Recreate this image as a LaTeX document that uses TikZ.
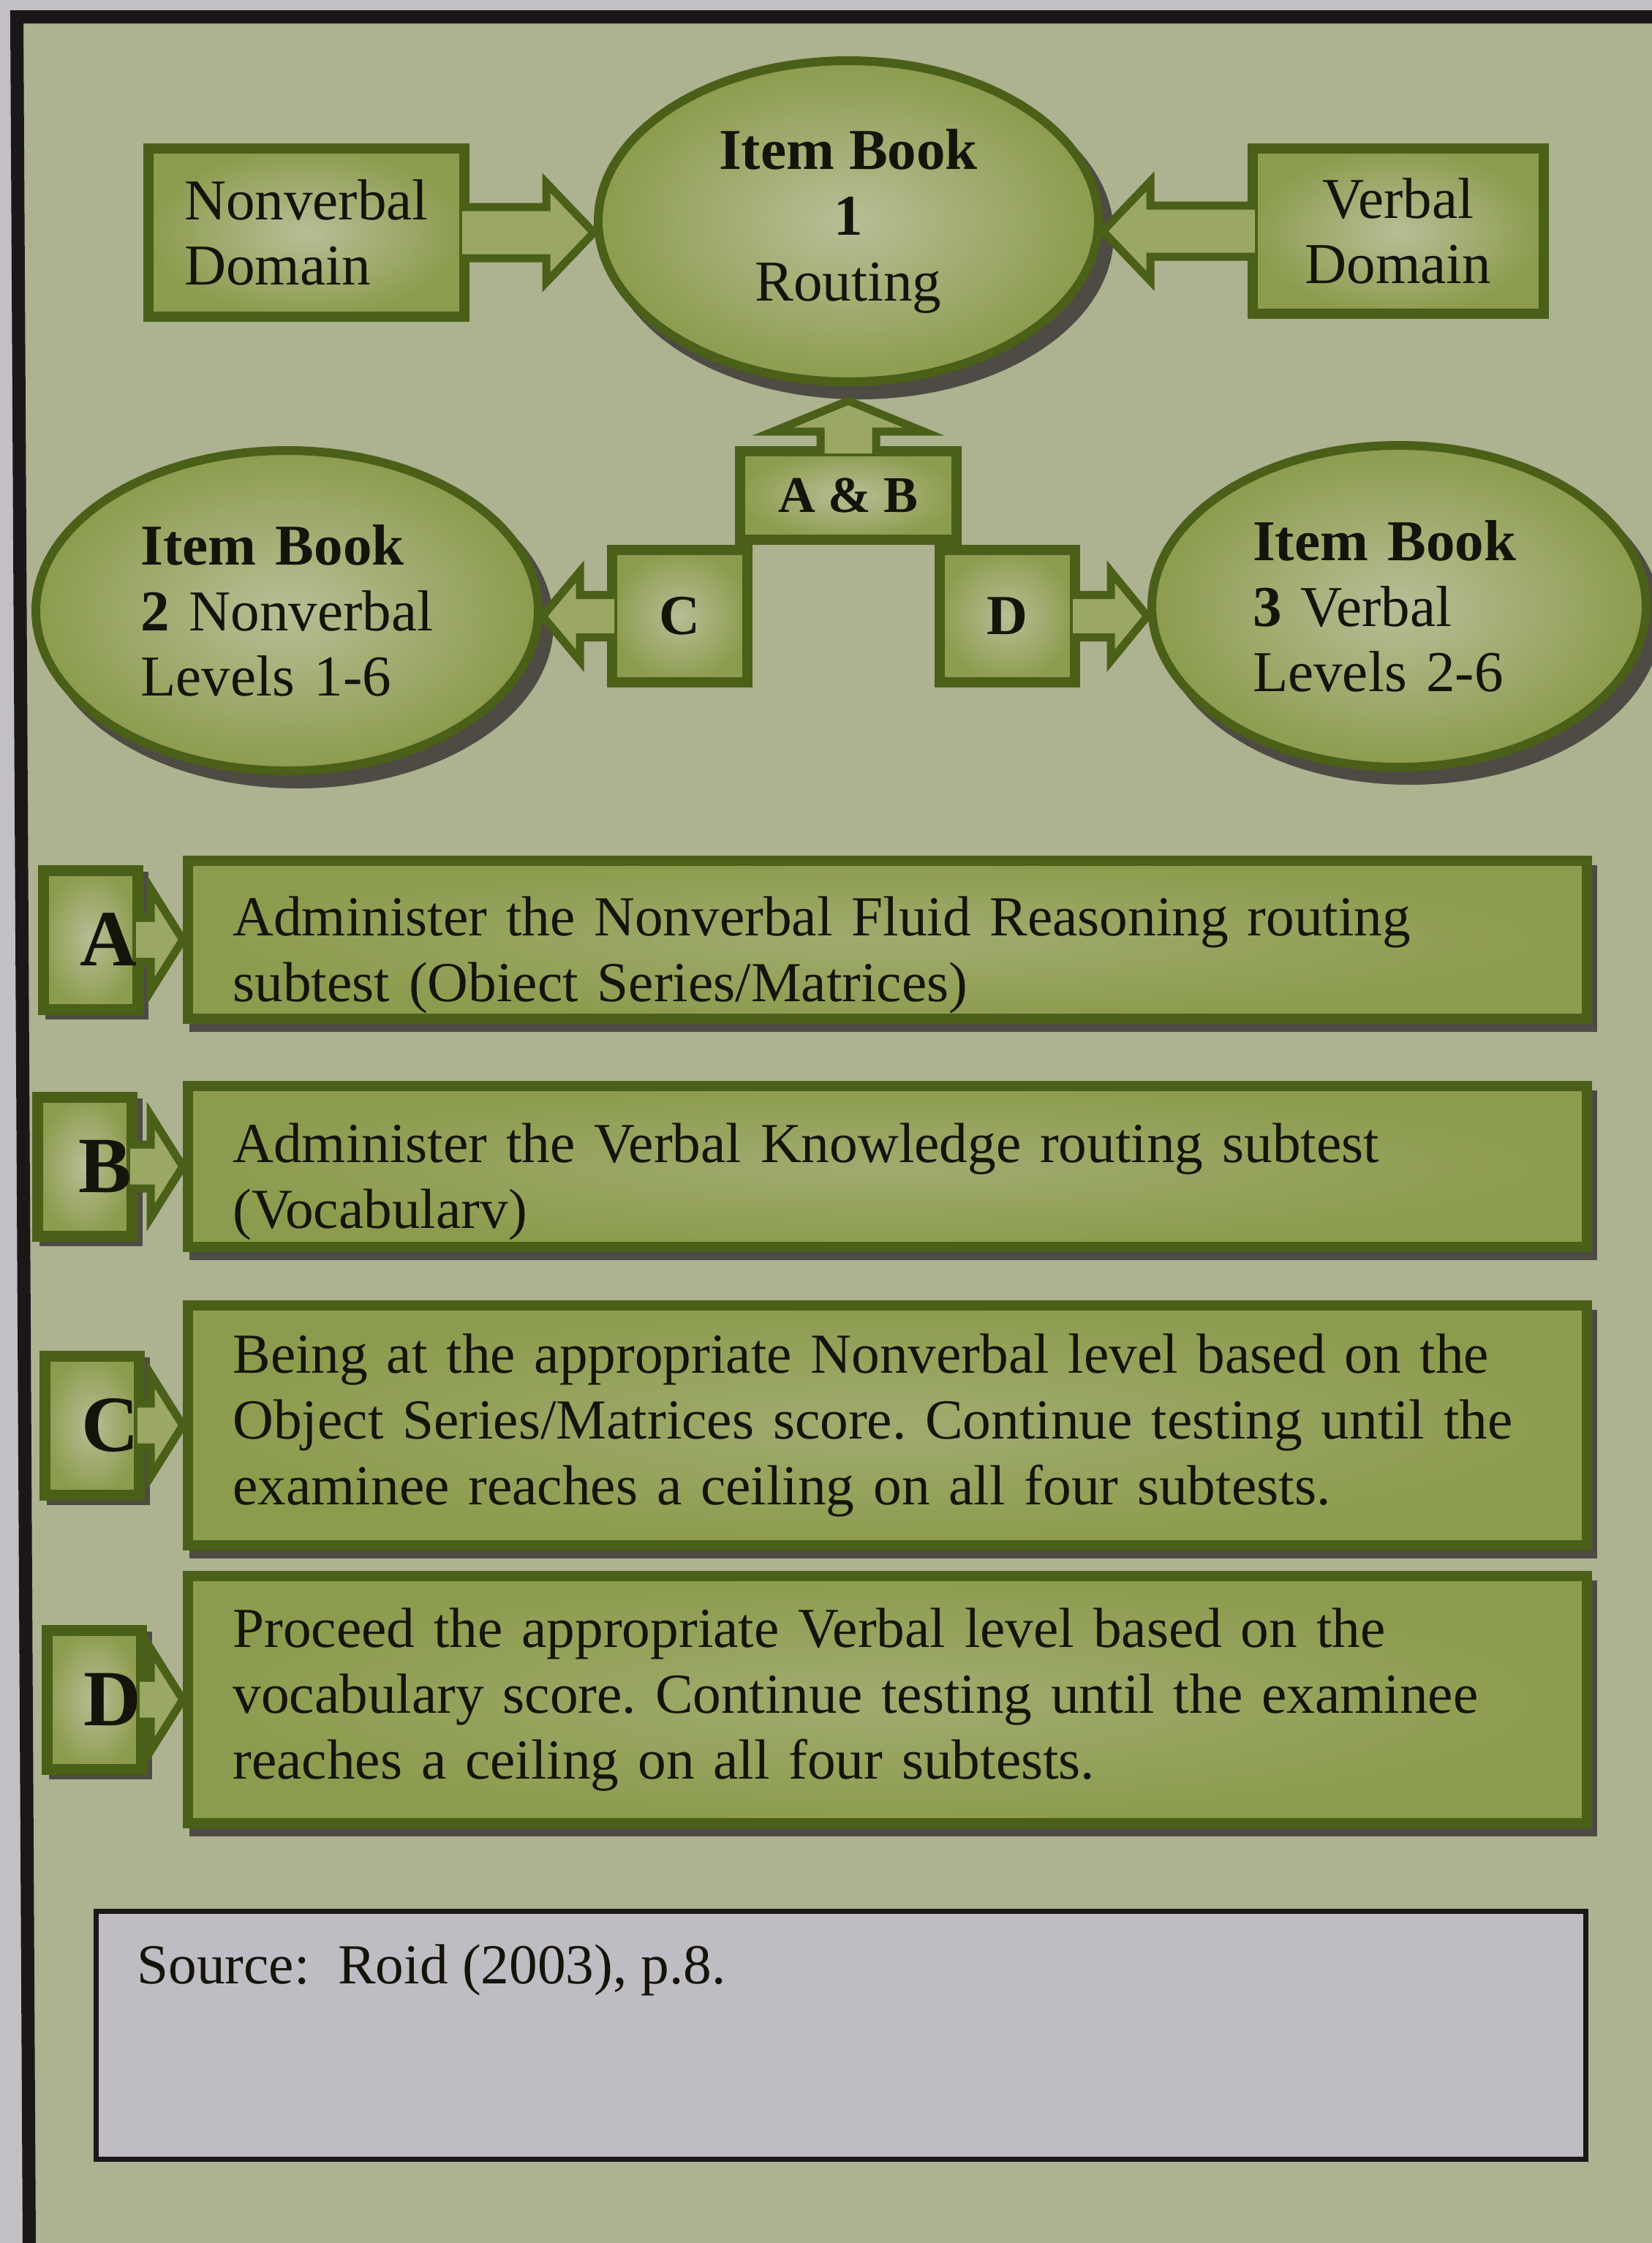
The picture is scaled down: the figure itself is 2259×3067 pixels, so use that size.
\documentclass[tikz,border=0pt]{standalone}
\usepackage{fontspec}
\setmainfont{Liberation Serif}
\usepackage{xcolor}
\definecolor{cPage}{HTML}{C3C0C5}
\definecolor{cSage}{HTML}{ADB291}
\definecolor{cFill}{HTML}{8C9C4E}
\definecolor{cLight}{HTML}{B7BE96}
\definecolor{cArrow}{HTML}{9AA864}
\definecolor{cEdge}{HTML}{4A5F18}
\definecolor{cShadow}{HTML}{4E4B44}
\definecolor{cInk}{HTML}{15140B}
\definecolor{cFrame}{HTML}{1B1719}
\definecolor{cNote}{HTML}{C0BCC4}
\usetikzlibrary{positioning,calc,shapes.geometric}
\frenchspacing
\tikzset{
  txt/.style={font=\fontsize{22.5}{25.5}\selectfont,text=cInk},
  shade-drop/.style={preaction={fill=cShadow,draw=cShadow,line width=1.2mm,
      transform canvas={shift={(#1)}}}},
  shade-drop/.default={1.2mm,-1.4mm},
  node-book/.style={ellipse,txt,draw=cEdge,line width=1.2mm,
    inner color=cLight,outer color=cFill,align=center,
    minimum width=68.4mm,minimum height=43.9mm,shade-drop={1.5mm,-1.8mm}},
  node-domain/.style={rectangle,txt,draw=cEdge,line width=1.4mm,
    inner color=cLight,outer color=cFill,align=center,
    minimum width=43.2mm,minimum height=23mm},
  node-route/.style={rectangle,draw=cEdge,line width=1.4mm,
    inner color=cLight,outer color=cFill,text=cInk,
    font=\bfseries\fontsize{22}{24}\selectfont,
    minimum width=18.5mm,minimum height=18.1mm},
  node-letter/.style={rectangle,draw=cEdge,line width=1.5mm,
    inner color=cLight,outer color=cFill,text=cInk,
    font=\bfseries\fontsize{31}{33}\selectfont,
    text width=12.9mm,inner xsep=0pt,align=right,minimum height=19mm,
    shade-drop={0.8mm,-0.8mm}},
  node-step/.style={rectangle,draw=cEdge,line width=1.4mm,text=cInk,
    font=\fontsize{22}{25.5}\selectfont,
    inner color=cFill!55!cLight,outer color=cFill,
    text width=179mm,align=left,minimum width=191.3mm,
    shade-drop={0.8mm,-1.2mm}},
  step-low/.style={inner ysep=0pt,execute at begin node={\rule{0pt}{9.6mm}}},
  node-source/.style={rectangle,draw=cFrame,line width=0.7mm,fill=cNote,
    minimum width=203.7mm,minimum height=33.9mm},
  fat-arrow/.style={draw=cEdge,fill=cArrow,line width=1.1mm,line join=miter},
  frame-line/.style={draw=cFrame,line width=1.8mm,line join=miter},
}
% block arrow from #1 to #2: shaft half width #3, head half width #4, head length #5
\newcommand{\fatarrow}[5]{%
  \path[fat-arrow] let \p1=(#1), \p2=(#2),
      \n1={atan2(\y2-\y1,\x2-\x1)}, \n2={veclen(\x2-\x1,\y2-\y1)} in
    [shift={(\p1)},rotate=\n1]
    (-1mm,#3) -- ({\n2*1pt-#5},#3) -- ({\n2*1pt-#5},#4) -- ({\n2*1pt},0pt)
    -- ({\n2*1pt-#5},-#4) -- ({\n2*1pt-#5},-#3) -- (-1mm,-#3);%
}

\begin{document}
\begin{tikzpicture}[x=0.1mm,y=0.1mm]
  \useasboundingbox (0,0) rectangle (2259,-3067);
  % sheet and frame
  \fill[cPage] (0,0) rectangle (2259,-3067);
  \fill[cSage] (23,-23) -- (2259,-23) -- (2259,-3067) -- (40,-3067) -- cycle;
  \draw[frame-line] (40,-3067) -- (23,-23) -- (2259,-23);

  % routing
  \node[node-book] (ib1) at (1160,-302.5) {\textbf{Item Book}\\\textbf{1}\\Routing};
  \node[node-domain,align=left] (nvd) at (419,-318) {Nonverbal\\Domain};
  \node[node-domain,minimum width=39.8mm,minimum height=22.6mm] (vd) at (1912,-316) {Verbal\\Domain};
  \node[node-route,font=\bfseries\fontsize{20}{22}\selectfont,
    minimum width=29.6mm,minimum height=12.1mm,below=8.2mm of ib1] (ab) {A \& B};
  \node[node-route,below left=0mm and -2.4mm of ab.south west] (c) {C};
  \node[node-route,below right=0mm and -3.7mm of ab.south east] (d) {D};
  \node[node-book,align=left,text width=40mm,minimum width=68.7mm,minimum height=43.8mm]
    (ib2) at (392.5,-835) {\textbf{Item Book}\\\textbf{2} Nonverbal\\Levels 1-6};
  \node[node-book,align=left,text width=40mm,minimum width=67.6mm,minimum height=44mm]
    (ib3) at (1913,-829) {\textbf{Item Book}\\\textbf{3} Verbal\\Levels 2-6};

  \fatarrow{nvd.east}{nvd.east -| ib1.west}{3.5mm}{6.8mm}{6.5mm}
  \fatarrow{vd.west}{vd.west -| ib1.east}{3.5mm}{6.8mm}{6.5mm}
  \fatarrow{ab.north}{$(ab.north |- ib1.south)+(0,-20)$}{3.8mm}{10.3mm}{4.2mm}
  \fatarrow{c.west}{c.west -| ib2.east}{2.9mm}{6.1mm}{5.1mm}
  \fatarrow{d.east}{d.east -| ib3.west}{2.9mm}{6.1mm}{5mm}

  % steps
  \node[node-step,step-low,minimum height=21.6mm] (ta) at (1213.5,-1285)
    {Administer the Nonverbal Fluid Reasoning routing\\subtest (Obiect Series/Matrices)};
  \node[node-step,step-low,minimum height=22mm,below=7.8mm of ta] (tb)
    {Administer the Verbal Knowledge routing subtest\\(Vocabularv)};
  \node[node-step,minimum height=32.8mm,below=6.6mm of tb] (tc)
    {Being at the appropriate Nonverbal level based on the\\Object Series/Matrices score. Continue testing until the\\examinee reaches a ceiling on all four subtests.};
  \node[node-step,minimum height=33.8mm,below=2.8mm of tc] (td)
    {Proceed the appropriate Verbal level based on the\\vocabulary score. Continue testing until the examinee\\reaches a ceiling on all four subtests.};

  \node[node-letter,left=5.4mm of ta] (la) {A};
  \node[node-letter,left=6.2mm of tb] (lb) {B};
  \node[node-letter,left=5.2mm of tc] (lc) {C};
  \node[node-letter,left=4.9mm of td] (ld) {D};

  \foreach \k in {a,b,c,d}{
    \fatarrow{l\k.east}{l\k.east -| t\k.west}{3mm}{7mm}{4.4mm}
  }

  % source
  \node[node-source] (src) at (1150,-2783) {};
  \node[txt,font=\fontsize{22}{25}\selectfont,anchor=base west] (srctxt)
    at ($(src.north west)+(4.7mm,-10.2mm)$) {Source:\ \ Roid (2003), p.8.};
\end{tikzpicture}
\end{document}
